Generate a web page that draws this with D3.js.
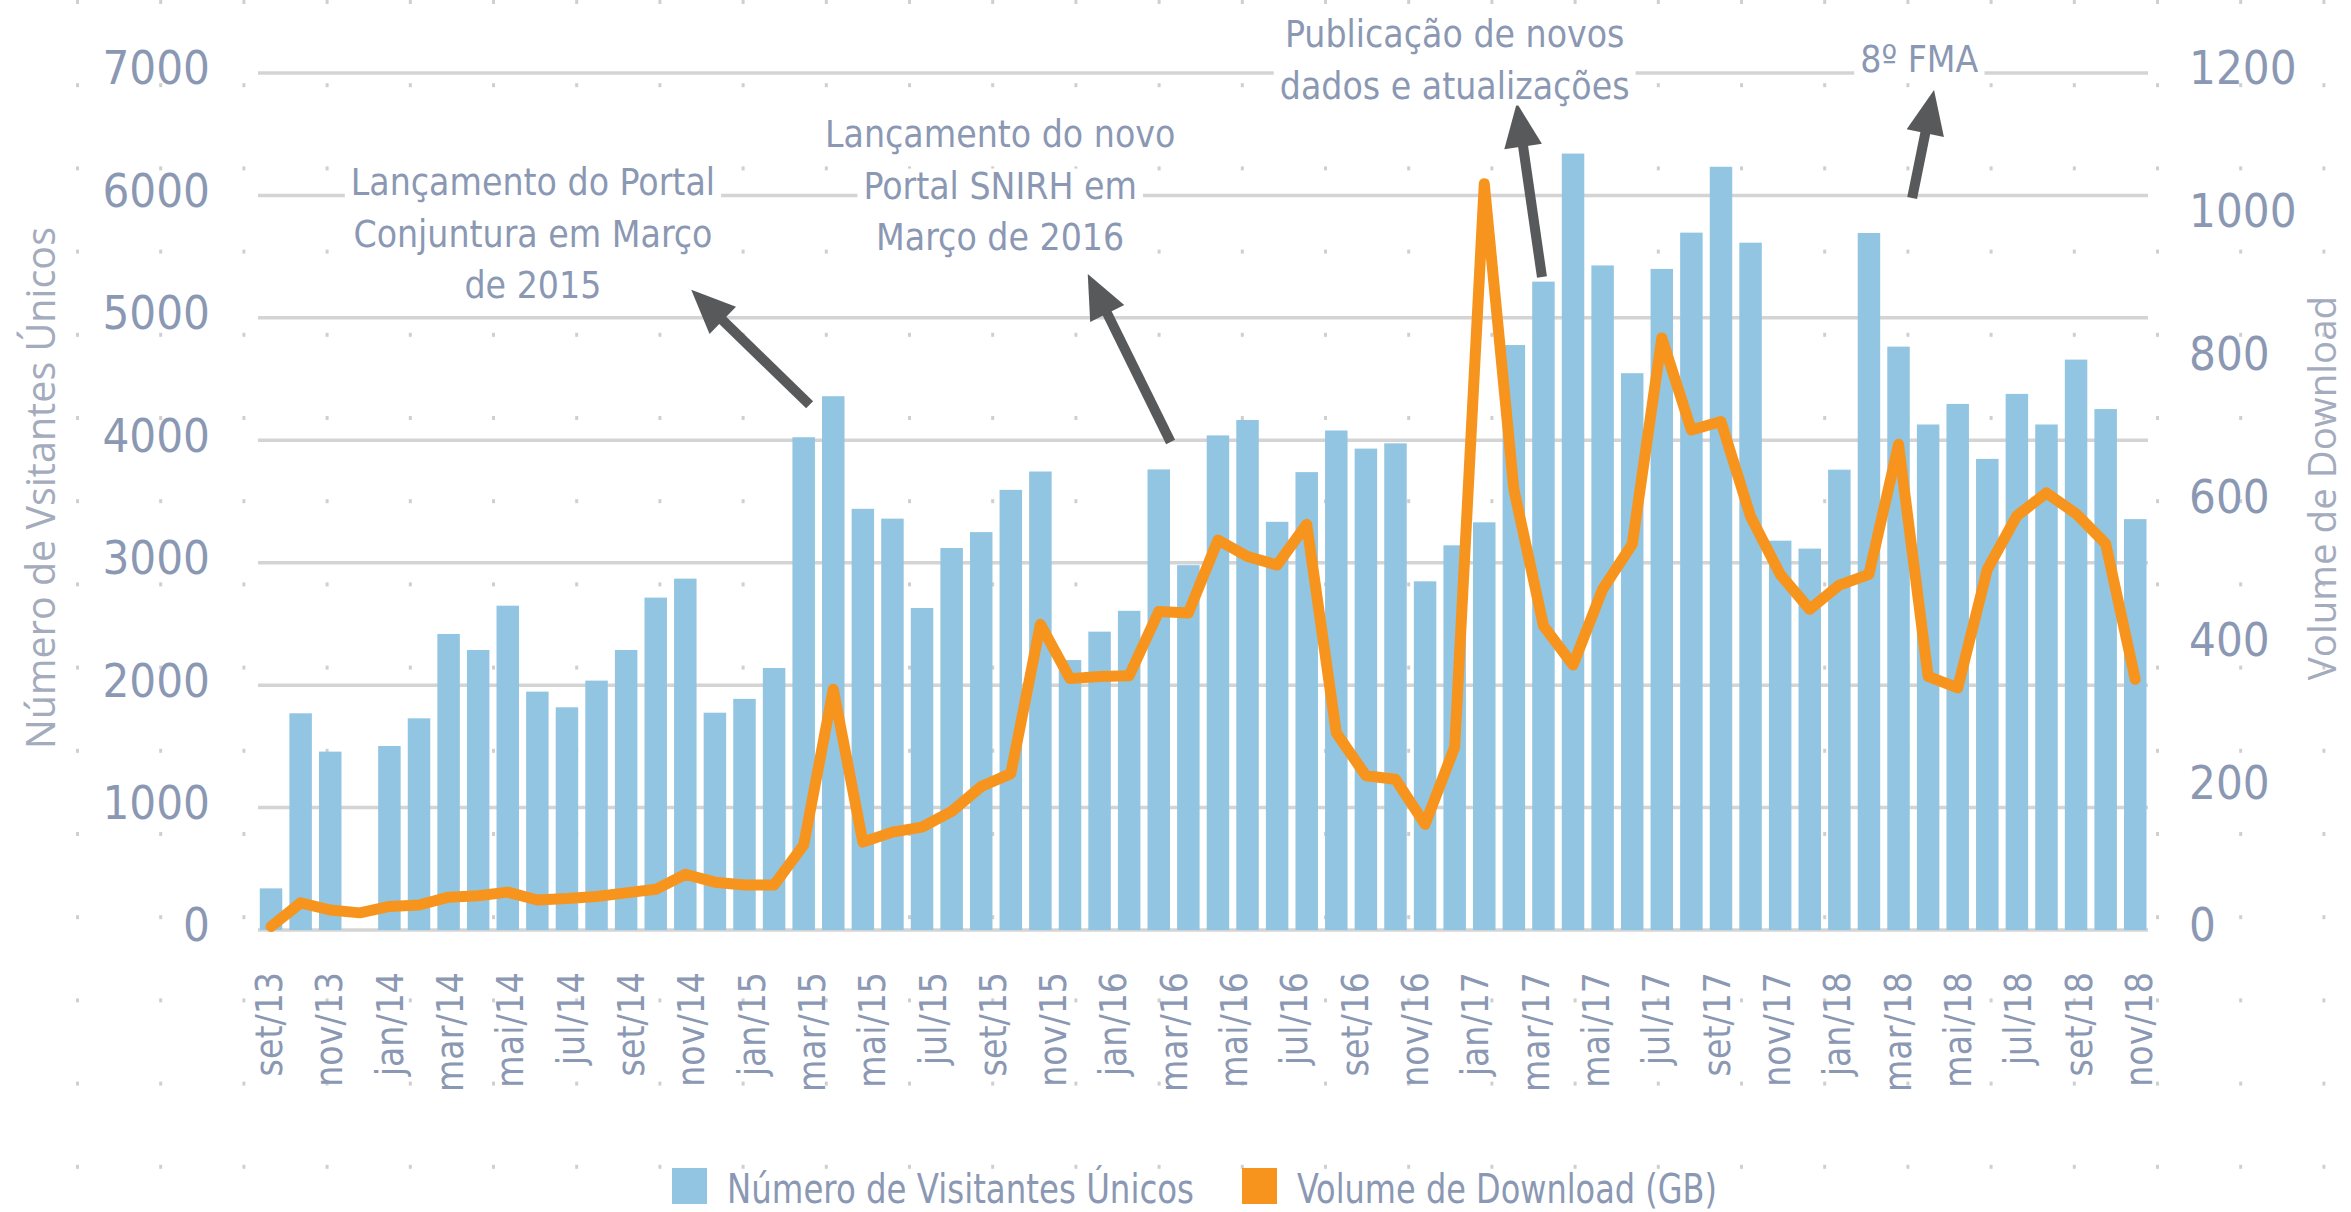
<!DOCTYPE html>
<html>
<head>
<meta charset="utf-8">
<script src="https://cdn.jsdelivr.net/npm/d3@7"></script>
<style>
  body { margin: 0; background: #fff; }
  text { font-family: "Liberation Sans Narrow", "DejaVu Sans Condensed", sans-serif; fill: #8b98b3; }
  .title { font-family: "Open Sans", "DejaVu Sans", sans-serif; fill: #a3abbd; }
</style>
</head>
<body>
<svg id="chart" width="2351" height="1212"></svg>
<script>
// monthly values, set/13 .. nov/18 (one bar per point)
var visitors = [
  340, 1770, 1457, 0, 1503, 1729, 2418, 2287, 2649, 1947, 1819, 2037, 2287, 2715, 2870, 1775,
  1888, 2140, 4025, 4360, 3440, 3360, 2630, 3120, 3250, 3595, 3745, 2205, 2437, 2607, 3762, 2980,
  4040, 4166, 3334, 3740, 4080, 3932, 3975, 2848, 3142, 3330, 4778, 5296, 6342, 5428, 4548, 5400,
  5696, 6234, 5614, 3180, 3115, 3760, 5693, 4765, 4129, 4297, 3848, 4379, 4129, 4659, 4255, 3356
];
var downloads = [
  5, 38, 28, 24, 33, 35, 46, 48, 53, 42, 44, 47, 52, 57, 78, 67,
  63, 63, 119, 337, 123, 137, 144, 166, 201, 219, 428, 352, 355, 356, 446, 444,
  546, 523, 511, 568, 276, 216, 211, 148, 256, 1045, 617, 426, 371, 477, 540, 829,
  700, 712, 579, 498, 449, 483, 498, 680, 355, 339, 505, 580, 612, 583, 541, 351
];
var monthLabels = [
  'set/13', 'nov/13', 'jan/14', 'mar/14', 'mai/14', 'jul/14', 'set/14', 'nov/14',
  'jan/15', 'mar/15', 'mai/15', 'jul/15', 'set/15', 'nov/15', 'jan/16', 'mar/16',
  'mai/16', 'jul/16', 'set/16', 'nov/16', 'jan/17', 'mar/17', 'mai/17', 'jul/17',
  'set/17', 'nov/17', 'jan/18', 'mar/18', 'mai/18', 'jul/18', 'set/18', 'nov/18'
];
var leftTicks = [0, 1000, 2000, 3000, 4000, 5000, 6000, 7000];
var rightTicks = [0, 200, 400, 600, 800, 1000, 1200];

var seriesNames = ['Número de Visitantes Únicos', 'Volume de Download (GB)'];
var barColor = '#92c5e2', lineColor = '#f7941d', arrowColor = '#58595b';

// annotations: anchor = [bar index, visitors value]
var notes = [
  { lines: ['Lançamento do Portal', 'Conjuntura em Março', 'de 2015'], at: [8.85, 6000], tail: [18.2, 4290], tip: [14.2, 5230] },
  { lines: ['Lançamento do novo', 'Portal SNIRH em', 'Março de 2016'], at: [24.64, 6395], tail: [30.4, 3986], tip: [27.6, 5358] },
  { lines: ['Publicação de novos', 'dados e atualizações'], at: [40.0, 7212], tail: [42.95, 5334], tip: [42.1, 6755] },
  { lines: ['8º FMA'], at: [55.7, 7008], tail: [55.46, 5979], tip: [56.2, 6861] }
];

var svg = d3.select('#chart');
var plotLeft = 258, plotRight = 2148, plotTop = 73, plotBottom = 930;

var x = d3.scaleBand()
  .domain(d3.range(visitors.length))
  .range([252.7, 2153.6])
  .padding(0.24);
var bw = x.bandwidth();
var xc = function (i) { return x(i) + bw / 2; };
var xi = d3.scaleLinear().domain([0, visitors.length - 1]).range([xc(0), xc(visitors.length - 1)]);
var yL = d3.scaleLinear().domain([0, 7000]).range([plotBottom, plotTop]);
var yR = d3.scaleLinear().domain([0, 1200]).range([plotBottom, plotTop]);
var xLab = d3.scalePoint().domain(monthLabels).range([269, 2139]);

svg.append('rect').attr('width', 2351).attr('height', 1212).attr('fill', '#fff');

// faint dotted lattice in the background
var dots = [];
d3.range(15).forEach(function (r) {
  d3.range(28).forEach(function (c) { dots.push([77.5 + c * 83.2, 2 + r * 83.2]); });
});
svg.append('g').selectAll('rect').data(dots).join('rect')
  .attr('x', function (d) { return d[0] - 1.5; })
  .attr('y', function (d) { return d[1] - 2; })
  .attr('width', 3).attr('height', 4)
  .attr('fill', '#cfcfcf');

// gridlines
svg.append('g').selectAll('line').data(leftTicks).join('line')
  .attr('x1', plotLeft).attr('x2', plotRight)
  .attr('y1', function (d) { return yL(d); })
  .attr('y2', function (d) { return yL(d); })
  .attr('stroke', '#d4d4d4').attr('stroke-width', 3.5);

// bars
svg.append('g').selectAll('rect').data(visitors).join('rect')
  .attr('x', function (d, i) { return x(i); })
  .attr('width', bw)
  .attr('y', function (d) { return yL(d); })
  .attr('height', function (d) { return plotBottom - yL(d); })
  .attr('fill', barColor);

// download line
svg.append('path')
  .datum(downloads)
  .attr('fill', 'none')
  .attr('stroke', lineColor)
  .attr('stroke-width', 11)
  .attr('stroke-linejoin', 'round')
  .attr('stroke-linecap', 'round')
  .attr('d', d3.line()
    .x(function (d, i) { return xc(i); })
    .y(function (d) { return yR(d); }));

// left axis labels
svg.append('g').selectAll('text').data(leftTicks).join('text')
  .attr('x', 210)
  .attr('y', function (d) { return yL(d) - 5; })
  .attr('dy', '0.35em')
  .attr('text-anchor', 'end')
  .style('font-size', '47px')
  .text(function (d) { return d; });

// right axis labels
svg.append('g').selectAll('text').data(rightTicks).join('text')
  .attr('x', 2189)
  .attr('y', function (d) { return yR(d) - 5; })
  .attr('dy', '0.35em')
  .style('font-size', '47px')
  .text(function (d) { return d; });

// month labels
svg.append('g').selectAll('text').data(monthLabels).join('text')
  .attr('transform', function (d) { return 'translate(' + xLab(d) + ',972) rotate(-90)'; })
  .attr('dy', '0.35em')
  .attr('text-anchor', 'end')
  .style('font-size', '37px')
  .text(function (d) { return d; });

// axis titles
svg.append('text').attr('class', 'title')
  .attr('transform', 'translate(55,488) rotate(-90)')
  .attr('text-anchor', 'middle')
  .style('font-size', '39.5px')
  .text('Número de Vsitantes Únicos');
svg.append('text').attr('class', 'title')
  .attr('transform', 'translate(2336,488) rotate(-90)')
  .attr('text-anchor', 'middle')
  .style('font-size', '38.5px')
  .text('Volume de Download');

// annotations
var noteG = svg.append('g');
function arrow(g, tail, tip) {
  var x0 = xi(tail[0]), y0 = yL(tail[1]), x1 = xi(tip[0]), y1 = yL(tip[1]);
  var len = Math.hypot(x1 - x0, y1 - y0), ux = (x1 - x0) / len, uy = (y1 - y0) / len;
  var headL = 44, headW = 19;
  var bx = x1 - ux * headL, by = y1 - uy * headL;
  g.append('line')
    .attr('x1', x0).attr('y1', y0)
    .attr('x2', x1 - ux * (headL - 4)).attr('y2', y1 - uy * (headL - 4))
    .attr('stroke', arrowColor).attr('stroke-width', 10);
  g.append('polygon')
    .attr('points', [[x1, y1], [bx - uy * headW, by + ux * headW], [bx + uy * headW, by - ux * headW]].join(' '))
    .attr('fill', arrowColor);
}
notes.forEach(function (n) {
  arrow(noteG, n.tail, n.tip);
  n.lines.forEach(function (line, k) {
    var t = noteG.append('text')
      .attr('x', xi(n.at[0]))
      .attr('y', yL(n.at[1]) + k * 51.5)
      .attr('text-anchor', 'middle')
      .style('font-size', '37px')
      .text(line);
    var b = t.node().getBBox();
    noteG.insert('rect', function () { return t.node(); })
      .attr('x', b.x - 6).attr('y', b.y + 4)
      .attr('width', b.width + 12).attr('height', b.height - 6)
      .attr('fill', '#fff');
  });
});

// legend
var legend = svg.append('g');
var legendItems = [
  { name: seriesNames[0], color: barColor, x: 672, w: 467 },
  { name: seriesNames[1], color: lineColor, x: 1242, w: 420 }
];
legendItems.forEach(function (d) {
  legend.append('rect').attr('x', d.x).attr('y', 1168).attr('width', 35).attr('height', 36).attr('fill', d.color);
  legend.append('text').attr('x', d.x + 55).attr('y', 1203)
    .attr('textLength', d.w).attr('lengthAdjust', 'spacingAndGlyphs')
    .style('font-size', '41px')
    .text(d.name);
});
</script>
</body>
</html>
